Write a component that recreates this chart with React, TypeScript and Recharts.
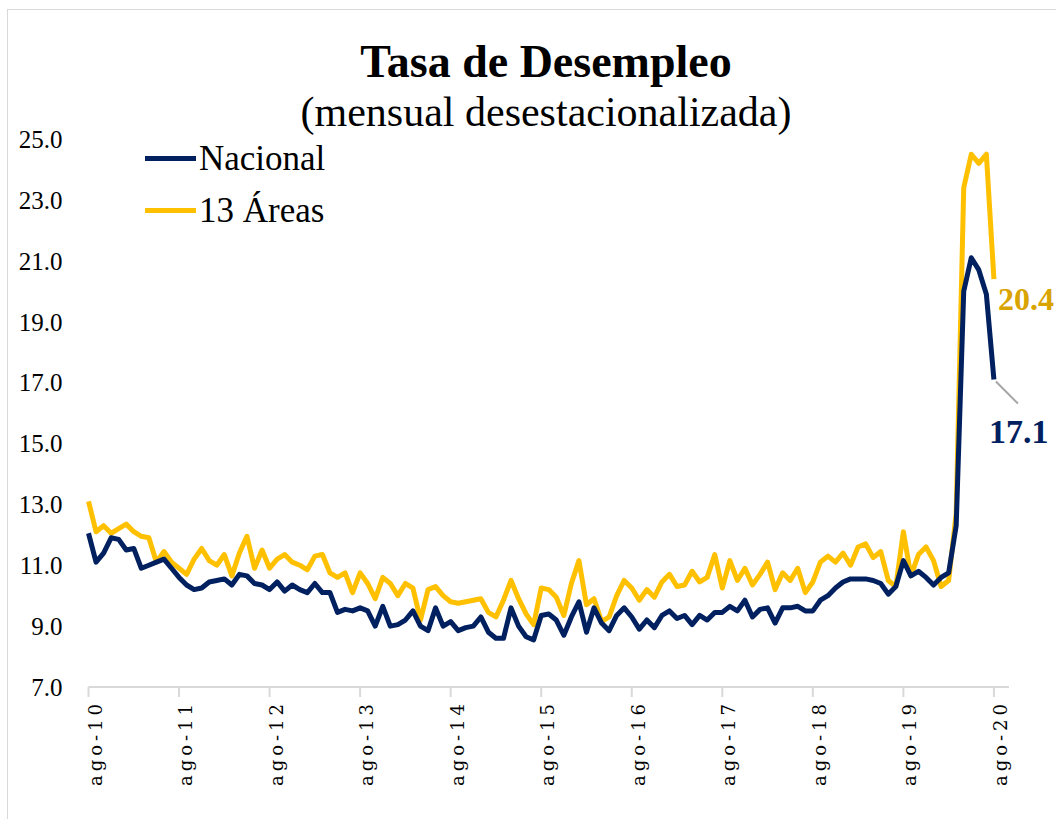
import React from 'react';
import { LineChart, Line, XAxis, YAxis, Legend, LabelList } from 'recharts';

const NAVY = '#002060';
const GOLD = '#FFC000';
const GOLD_TEXT = '#D9A300';

// Monthly, ago-2010 .. ago-2020 (index 0..120)
const nacional = [
  12.05, 11.1, 11.4, 11.9, 11.85, 11.5, 11.55, 10.9, 11.0, 11.1,
  11.2, 10.9, 10.6, 10.35, 10.2, 10.25, 10.45, 10.5, 10.55, 10.35,
  10.7, 10.65, 10.4, 10.35, 10.2, 10.45, 10.15, 10.35, 10.2, 10.1,
  10.4, 10.1, 10.1, 9.45, 9.55, 9.5, 9.6, 9.5, 9.0, 9.65,
  9.0, 9.05, 9.2, 9.5, 9.0, 8.85, 9.6, 9.0, 9.15, 8.85,
  8.95, 9.0, 9.3, 8.8, 8.6, 8.6, 9.6, 9.0, 8.65, 8.55,
  9.35, 9.4, 9.2, 8.7, 9.3, 9.8, 8.8, 9.6, 9.1, 8.85,
  9.35, 9.6, 9.3, 8.9, 9.2, 8.95, 9.35, 9.5, 9.25, 9.35,
  9.05, 9.35, 9.2, 9.45, 9.45, 9.65, 9.5, 9.85, 9.3, 9.55,
  9.6, 9.1, 9.6, 9.6, 9.65, 9.5, 9.5, 9.85, 10.0, 10.25,
  10.45, 10.55, 10.55, 10.55, 10.5, 10.4, 10.05, 10.3, 11.15, 10.65,
  10.8, 10.6, 10.35, 10.6, 10.75, 12.3, 20.0, 21.1, 20.7, 19.9,
  17.1,
];

const areas13 = [
  13.1, 12.1, 12.3, 12.05, 12.2, 12.35, 12.1, 11.95, 11.9, 11.1,
  11.45, 11.1, 10.9, 10.7, 11.2, 11.55, 11.15, 11.0, 11.35, 10.65,
  11.4, 11.95, 10.9, 11.5, 10.9, 11.2, 11.35, 11.1, 11.0, 10.85,
  11.3, 11.35, 10.75, 10.6, 10.75, 10.1, 10.75, 10.4, 9.9, 10.6,
  10.4, 10.0, 10.4, 10.25, 9.2, 10.2, 10.3, 10.0, 9.8, 9.75,
  9.8, 9.85, 9.9, 9.45, 9.3, 9.85, 10.5, 9.9, 9.4, 9.05,
  10.25, 10.2, 9.95, 9.35, 10.4, 11.15, 9.7, 9.9, 9.15, 9.3,
  10.0, 10.5, 10.25, 9.85, 10.2, 9.95, 10.45, 10.7, 10.3, 10.35,
  10.8, 10.45, 10.6, 11.35, 10.25, 11.15, 10.5, 10.9, 10.35, 10.7,
  11.1, 10.2, 10.75, 10.5, 10.9, 10.1, 10.45, 11.1, 11.3, 11.1,
  11.4, 11.0, 11.6, 11.7, 11.25, 11.45, 10.5, 10.3, 12.1, 10.65,
  11.35, 11.6, 11.15, 10.3, 10.5, 12.7, 23.4, 24.5, 24.2, 24.5,
  20.4,
];

const tickLabels = ['ago-10', 'ago-11', 'ago-12', 'ago-13', 'ago-14', 'ago-15', 'ago-16', 'ago-17', 'ago-18', 'ago-19', 'ago-20'];
const tickIndex = [0, 12, 24, 36, 48, 60, 72, 84, 96, 108, 120];
const yTicks = [7, 9, 11, 13, 15, 17, 19, 21, 23, 25];

const seriesNames = ['Nacional', '13 Áreas'];

const data = nacional.map((v, i) => ({ i, nacional: v, areas: areas13[i] }));
const LAST = nacional.length - 1;

const XTick = (props: any) => {
  const { x, y, payload } = props;
  const label = tickLabels[tickIndex.indexOf(payload.value)];
  return (
    <text
      transform={`translate(${x + 13},${y + 1}) rotate(-90)`}
      textAnchor="end"
      fontFamily="DejaVu Serif"
      fontSize={18}
      letterSpacing={4}
      fill="#000"
    >
      {label}
    </text>
  );
};

const renderLegend = () => (
  <div style={{ fontFamily: 'Liberation Serif', fontSize: 35, color: '#000' }}>
    {seriesNames.map((name, k) => (
      <div key={name} style={{ display: 'flex', alignItems: 'center', height: 52 }}>
        <div style={{ width: 51, height: 5, background: k === 0 ? NAVY : GOLD, marginRight: 3 }} />
        <span style={{ lineHeight: '35px' }}>{name}</span>
      </div>
    ))}
  </div>
);

const NacLabel = (props: any) => {
  const { x, y, index, value } = props;
  if (index !== LAST) return null;
  return (
    <g>
      <line x1={x + 2} y1={y + 2} x2={x + 24} y2={y + 24} stroke="#A6A6A6" strokeWidth={2} />
      <text x={x - 5} y={y + 56} fontFamily="Liberation Serif" fontWeight="bold" fontSize={34} fill={NAVY} dominantBaseline="middle">
        {Number(value).toFixed(1)}
      </text>
    </g>
  );
};

const AreasLabel = (props: any) => {
  const { x, y, index, value } = props;
  if (index !== LAST) return null;
  return (
    <text x={x + 4} y={y + 24} fontFamily="Liberation Serif" fontWeight="bold" fontSize={32} fill={GOLD_TEXT} dominantBaseline="middle">
      {Number(value).toFixed(1)}
    </text>
  );
};

export default function App() {
  return (
    <div style={{ position: 'absolute', left: 0, top: 0, width: 1056, height: 819, background: '#fff', overflow: 'hidden' }}>
      <div style={{ position: 'absolute', left: 7, top: 9, width: 1049, height: 810, borderTop: '1px solid #D9D9D9', borderLeft: '1px solid #D9D9D9', boxSizing: 'border-box' }} />
      <div style={{ position: 'absolute', left: 246, width: 600, top: 39, textAlign: 'center', fontFamily: 'Liberation Serif', fontWeight: 'bold', fontSize: 46, lineHeight: '46px', color: '#000' }}>
        Tasa de Desempleo
      </div>
      <div style={{ position: 'absolute', left: 196, width: 700, top: 91, textAlign: 'center', fontFamily: 'Liberation Serif', fontSize: 42, lineHeight: '42px', color: '#000' }}>
        (mensual desestacionalizada)
      </div>
      <div style={{ position: 'absolute', left: 0, top: 0 }}>
        <LineChart width={1056} height={819} data={data} margin={{ top: 139, right: 47, left: 18.5, bottom: 22 }}>
          <XAxis
            dataKey="i"
            type="number"
            domain={[0, 122]}
            ticks={tickIndex}
            interval={0}
            height={110}
            axisLine={{ stroke: '#D9D9D9', strokeWidth: 2 }}
            tickLine={{ stroke: '#D9D9D9', strokeWidth: 2 }}
            tickSize={10}
            tickMargin={2}
            tick={<XTick />}
          />
          <YAxis
            type="number"
            domain={[7, 25]}
            ticks={yTicks}
            interval={0}
            width={70}
            axisLine={false}
            tickLine={false}
            tickSize={0}
            tickMargin={26}
            tickFormatter={(v: number) => v.toFixed(1)}
            tick={{ fontFamily: 'Liberation Serif', fontSize: 25, fill: '#000' }}
          />
          <Legend
            layout="vertical"
            align="center"
            verticalAlign="middle"
            content={renderLegend}
            wrapperStyle={{ left: 145, top: 132, width: 260, height: 104 }}
          />
          <Line type="linear" dataKey="areas" name="13 Áreas" stroke={GOLD} strokeWidth={5} dot={false} isAnimationActive={false} strokeLinejoin="round">
            <LabelList dataKey="areas" content={<AreasLabel />} />
          </Line>
          <Line type="linear" dataKey="nacional" name="Nacional" stroke={NAVY} strokeWidth={5} dot={false} isAnimationActive={false} strokeLinejoin="round">
            <LabelList dataKey="nacional" content={<NacLabel />} />
          </Line>
        </LineChart>
      </div>
    </div>
  );
}
